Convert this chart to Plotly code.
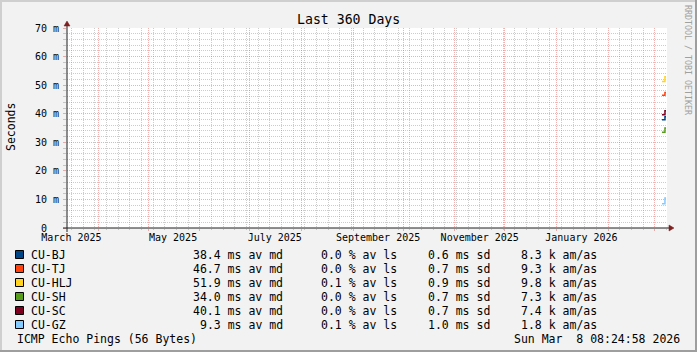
import plotly.graph_objects as go
import pandas as pd

# ---------------- data ----------------
names = ["CU-BJ", "CU-TJ", "CU-HLJ", "CU-SH", "CU-SC", "CU-GZ"]
colors = ["#004586", "#ff420e", "#ffd320", "#579d1c", "#7e0021", "#83caff"]
times = ["2026-03-05 08:00", "2026-03-07 03:00", "2026-03-07 18:00"]
# median RTT samples (ms) near the end of the period
vals_bj = [37.9, 38.9, 38.9]
vals_tj = [46.5, 47.4, 47.4]
vals_hlj = [51.3, 52.9, 52.9]
vals_sh = [33.5, 35.0, 35.0]
vals_sc = [39.6, 41.0, 41.0]
vals_gz = [8.5, 10.5, 10.5]
series = [vals_bj, vals_tj, vals_hlj, vals_sh, vals_sc, vals_gz]

av_md = ["38.4", "46.7", "51.9", "34.0", "40.1", "9.3"]
av_ls = ["0.0", "0.0", "0.1", "0.0", "0.0", "0.1"]
sd = ["0.6", "0.7", "0.9", "0.7", "0.7", "1.0"]
am_as = ["8.3", "9.3", "9.8", "7.3", "7.4", "1.8"]

y_ticks = [0, 10, 20, 30, 40, 50, 60, 70]
y_ticktext = ["\u00a00\u00a0\u00a0", "10 m", "20 m", "30 m", "40 m", "50 m", "60 m", "70 m"]
label_dates = ["2025-03-16", "2025-05-16", "2025-07-16", "2025-09-16", "2025-11-16", "2026-01-16"]
label_text = ["March 2025", "May 2025", "July 2025", "September 2025", "November 2025", "January 2026"]

end_time = pd.Timestamp("2026-03-08 08:24:58")
start_time = end_time - pd.Timedelta(days=360)
month_starts = [d.strftime("%Y-%m-%d") for d in pd.date_range(start_time, end_time, freq="MS")]
week_starts = [d.strftime("%Y-%m-%d") for d in pd.date_range(start_time.normalize(), end_time, freq="W-SUN")
               if d.day != 1]
minor_y = [v for v in range(0, 71, 2) if v % 10 != 0]

# ---------------- layout geometry ----------------
W, H = 697, 352
L, T, PW, PH = 67, 28, 600, 200
R = W - L - PW
B = H - T - PH
FONT = "DejaVu Sans Mono"


def px(x):
    return (x - L) / PW


def py(y):
    return (T + PH - y) / PH


fig = go.Figure()
for n, c, v in zip(names, colors, series):
    fig.add_trace(go.Scatter(x=times, y=v, mode="lines", line=dict(color=c, width=1.5, shape="hv"),
                             name=n, showlegend=False, hoverinfo="skip"))

fig.add_trace(go.Scatter(x=[start_time, end_time], y=[None, None], xaxis="x2", showlegend=False,
                         hoverinfo="skip", mode="lines"))

grid_col = "rgba(143,143,143,0.45)"
mgrid_col = "rgba(222,79,79,0.45)"
axis_col = "#1f1f1f"
arrow_col = "#801f1f"
DOT = "1px,1px"

fig.update_layout(
    width=W, height=H,
    margin=dict(l=L, r=R, t=T, b=B),
    paper_bgcolor="#f2f2f2", plot_bgcolor="#ffffff",
    font=dict(family=FONT, size=10, color="#000000"),
    xaxis=dict(
        type="date", range=[start_time, end_time],
        tickmode="array", tickvals=month_starts, ticktext=[""] * len(month_starts),
        showgrid=True, gridcolor=mgrid_col, griddash=DOT, gridwidth=1,
        ticks="outside", ticklen=2, tickcolor=mgrid_col,
        minor=dict(tickmode="array", tickvals=week_starts, showgrid=True, gridcolor=grid_col,
                   griddash=DOT, gridwidth=1, ticks="outside", ticklen=1, tickcolor=grid_col),
        zeroline=False, showline=False, fixedrange=True,
    ),
    xaxis2=dict(
        type="date", range=[start_time, end_time], overlaying="x", side="bottom", anchor="y",
        tickmode="array", tickvals=label_dates, ticktext=label_text, ticklabelstandoff=2,
        showgrid=False, ticks="", tickfont=dict(family=FONT, size=10, color="#000"),
        showline=False, zeroline=False,
    ),
    yaxis=dict(
        range=[0, 70], tickmode="array", tickvals=y_ticks, ticktext=y_ticktext,
        showgrid=True, gridcolor=mgrid_col, griddash=DOT, gridwidth=1,
        ticks="outside", ticklen=3, tickcolor=mgrid_col, ticklabelstandoff=2,
        minor=dict(tickmode="array", tickvals=minor_y, showgrid=True, gridcolor=grid_col,
                   griddash=DOT, gridwidth=1, ticks="outside", ticklen=3, tickcolor=grid_col),
        tickfont=dict(family=FONT, size=10, color="#000"),
        zeroline=False, showline=False, fixedrange=True,
    ),
)

shapes = []
shapes.append(dict(type="line", xref="paper", yref="paper", x0=px(L - 4), x1=px(L + PW + 3),
                   y0=0, y1=0, line=dict(color=axis_col, width=1)))
shapes.append(dict(type="line", xref="paper", yref="paper", x0=0, x1=0,
                   y0=py(T + PH + 4), y1=py(T - 3), line=dict(color=axis_col, width=1)))
shapes.append(dict(type="path", xref="paper", yref="paper",
                   path=f"M {px(L+PW+2)},{py(T+PH-3)} L {px(L+PW+7)},{py(T+PH)} L {px(L+PW+2)},{py(T+PH+3)} Z",
                   fillcolor=arrow_col, line=dict(color=arrow_col, width=0.5)))
shapes.append(dict(type="path", xref="paper", yref="paper",
                   path=f"M {px(L-3)},{py(T-2)} L {px(L)},{py(T-7)} L {px(L+3)},{py(T-2)} Z",
                   fillcolor=arrow_col, line=dict(color=arrow_col, width=0.5)))
shapes.append(dict(type="rect", xref="paper", yref="paper", x0=px(0), x1=px(2), y0=py(H), y1=py(0),
                   fillcolor="#cfcfcf", line=dict(width=0)))
shapes.append(dict(type="rect", xref="paper", yref="paper", x0=px(0), x1=px(W), y0=py(2), y1=py(0),
                   fillcolor="#cfcfcf", line=dict(width=0)))
shapes.append(dict(type="rect", xref="paper", yref="paper", x0=px(W - 2), x1=px(W), y0=py(H), y1=py(0),
                   fillcolor="#9e9e9e", line=dict(width=0)))
shapes.append(dict(type="rect", xref="paper", yref="paper", x0=px(0), x1=px(W), y0=py(H), y1=py(H - 2),
                   fillcolor="#9e9e9e", line=dict(width=0)))

annotations = []


def txt(x, y, s, anchor="left", size=11.5, color="#000", angle=0):
    annotations.append(dict(xref="paper", yref="paper", x=px(x), y=py(y), text=s, showarrow=False,
                            xanchor=anchor, yanchor="middle", borderpad=0, textangle=angle,
                            font=dict(family=FONT, size=size, color=color)))


row_y0, row_dy = 254.5, 14
for i, n in enumerate(names):
    yy = row_y0 + i * row_dy
    shapes.append(dict(type="rect", xref="paper", yref="paper", x0=px(15.5), x1=px(23.5),
                       y0=py(yy + 4), y1=py(yy - 4), fillcolor=colors[i],
                       line=dict(color="#000", width=1)))
    txt(30, yy, n)
    txt(283.5, yy, f"{av_md[i]} ms av md", anchor="right")
    txt(397.5, yy, f"{av_ls[i]} % av ls", anchor="right")
    txt(490.5, yy, f"{sd[i]} ms sd", anchor="right")
    txt(597.5, yy, f"{am_as[i]} k am/as", anchor="right")

txt(16, 338.5, "ICMP Echo Pings (56 Bytes)")
txt(681, 338.5, "Sun Mar\u00a0\u00a08 08:24:58 2026", anchor="right")
txt(348.5, 19, "Last 360 Days", anchor="center", size=13.2)
txt(11, 127, "Seconds", anchor="center", angle=-90)
txt(688, 60, "RRDTOOL / TOBI OETIKER", anchor="center", size=8.3, color="#a0a0a0", angle=90)

fig.update_layout(shapes=shapes, annotations=annotations)
fig.write_html("out.html")
